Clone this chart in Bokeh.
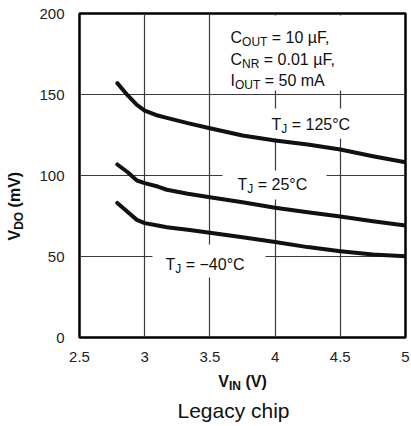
from math import pi
from bokeh.plotting import figure
from bokeh.models import Range1d, FixedTicker, CustomJSTickFormatter, Label, BoxAnnotation
from bokeh.core.properties import value
from bokeh.embed import file_html
from bokeh.resources import INLINE

# ---------------- data ----------------
vin = [2.79, 2.87, 2.94, 3.0, 3.1, 3.17, 3.33, 3.5, 3.75, 4.0, 4.25, 4.5, 4.75, 5.0]
vdo_125 = [157.0, 149.4, 143.6, 140.1, 137.0, 135.6, 132.3, 129.2, 124.7, 121.6, 119.1, 116.0, 111.9, 108.2]
vdo_25 = [106.8, 102.0, 96.9, 95.3, 93.2, 91.2, 88.7, 86.6, 83.5, 80.1, 77.3, 74.7, 71.8, 69.1]
vdo_m40 = [83.1, 77.4, 72.6, 70.6, 69.1, 68.1, 66.5, 64.6, 61.9, 58.9, 55.8, 53.3, 51.2, 50.2]
x_ticks = [2.5, 3, 3.5, 4, 4.5, 5]
y_ticks = [0, 50, 100, 150, 200]
temp_labels = ["= 125°C", "= 25°C", "= −40°C"]
cond_lines = [("C", "OUT", "= 10 µF,"), ("C", "NR", "= 0.01 µF,"), ("I", "OUT", "= 50 mA")]
x_title = ("V", "IN", "(V)")
y_title = ("V", "DO", "(mV)")
caption = "Legacy chip"

# ---------------- geometry ----------------
X0, X1, Y0, Y1 = 2.5, 5.0, 0.0, 200.0
FL, FR, FT, FB = 79, 405, 13, 337   # frame edges in canvas pixels
CW, CH = 411, 426
BASE_FIX = 0.34                      # renderer places alphabetic baseline ~0.34em low


def dx(px):
    return X0 + (px - FL) * (X1 - X0) / (FR - FL)


def dy(py):
    return Y0 + (FB - py) * (Y1 - Y0) / (FB - FT)


FONT = "Liberation Sans"
INK = "#111111"

W_REG = {"C": 722, "O": 778, "U": 722, "T": 611, "N": 722, "R": 722, "I": 278, "J": 500, " ": 278}
W_BOLD = {"V": 667, "D": 722, "O": 778, "I": 278, "N": 722, " ": 278}


def text_width(s, size, bold=False):
    table = W_BOLD if bold else W_REG
    return sum(table.get(ch, 556) for ch in s) * size / 1000.0


p = figure(width=CW, height=CH, output_backend="svg", toolbar_location=None,
           x_range=Range1d(X0, X1), y_range=Range1d(Y0, Y1),
           min_border_left=FL, min_border_right=CW - FR, min_border_top=FT,
           min_border_bottom=CH - FB)

p.background_fill_color = "white"
p.border_fill_color = "white"
p.outline_line_color = "black"
p.outline_line_width = 2.5
p.outline_line_alpha = 1.0

p.xaxis.ticker = FixedTicker(ticks=x_ticks)
p.yaxis.ticker = FixedTicker(ticks=y_ticks)
p.xaxis.formatter = CustomJSTickFormatter(code="return tick.toString();")
p.yaxis.formatter = CustomJSTickFormatter(code="return tick.toString();")
for ax in (p.xaxis, p.yaxis):
    ax.axis_line_color = None
    ax.major_tick_line_color = None
    ax.minor_tick_line_color = None
    ax.major_label_text_font = FONT
    ax.major_label_text_font_size = "15px"
    ax.major_label_text_color = "#222222"
p.xaxis.major_label_standoff = 8
p.yaxis.major_label_standoff = 9

p.xgrid.ticker = FixedTicker(ticks=x_ticks)
p.ygrid.ticker = FixedTicker(ticks=y_ticks)
for g in (p.xgrid, p.ygrid):
    g.grid_line_color = "#3a3a3a"
    g.grid_line_width = 1.2

# white masks behind the text blocks (break the grid lines)
for (l, r, t, b) in [(222, 400, 15, 90), (262, 360, 108, 138), (222, 326, 170, 199), (152, 265, 244, 277)]:
    p.add_layout(BoxAnnotation(left=dx(l), right=dx(r), top=dy(t), bottom=dy(b),
                               fill_color="white", fill_alpha=1.0, line_color=None,
                               level="underlay"))

for ys in (vdo_125, vdo_25, vdo_m40):
    p.line(vin, ys, line_width=4, line_color=INK, line_join="round", line_cap="round")


def put_text(text, x, y, size, bold, angle, outside, align="left"):
    style = "bold" if bold else "normal"
    fix = BASE_FIX * size
    if angle:
        x -= fix
    else:
        y -= fix
    if outside:
        # glyph at overlay level so it can sit in the margins
        p.text(x=[dx(x)], y=[dy(y)], text=[text], angle=angle,
               text_font=value(FONT), text_font_size=value(f"{size}px"),
               text_font_style=value(style), text_color=INK,
               text_align=value(align), text_baseline=value("alphabetic"),
               level="overlay")
    else:
        p.add_layout(Label(x=dx(x), y=dy(y), text=text, angle=angle,
                           text_font=FONT, text_font_size=f"{size}px",
                           text_font_style=style, text_color=INK,
                           text_align=align, text_baseline="alphabetic"))


def rich(parts, px, py, size, sub, bold=False, vertical=False, outside=False):
    """parts: main, subscript, rest (rest preceded by a space)."""
    main, subs, rest = parts
    pieces = [(main, False, 0.0), (subs, True, 0.0), (rest, False, text_width(" ", size, bold))]
    pos = 0.0
    for text, is_sub, gap in pieces:
        pos += gap
        fs = sub if is_sub else size
        shift = 0.22 * size if is_sub else 0.0
        if vertical:
            put_text(text, px + shift, py - pos, fs, bold, pi / 2, outside)
        else:
            put_text(text, px + pos, py + shift, fs, bold, 0.0, outside)
        pos += text_width(text, fs, bold)


# condition block
for parts, base in zip(cond_lines, [42, 64, 85]):
    rich(parts, 230, base, 16, 12)

# temperature labels
for lab, (lx, ly) in zip(temp_labels, [(271, 129), (237, 189), (165, 269)]):
    rich(("T", "J", lab), lx, ly, 16, 12)

# axis titles
rich(x_title, 217.8, 386, 16, 12, bold=True, outside=True)
rich(y_title, 19.3, 240, 16, 12, bold=True, vertical=True, outside=True)

# caption
put_text(caption, 233, 417, 21, False, 0.0, True, align="center")

open("out.html", "w").write(file_html(p, INLINE))
